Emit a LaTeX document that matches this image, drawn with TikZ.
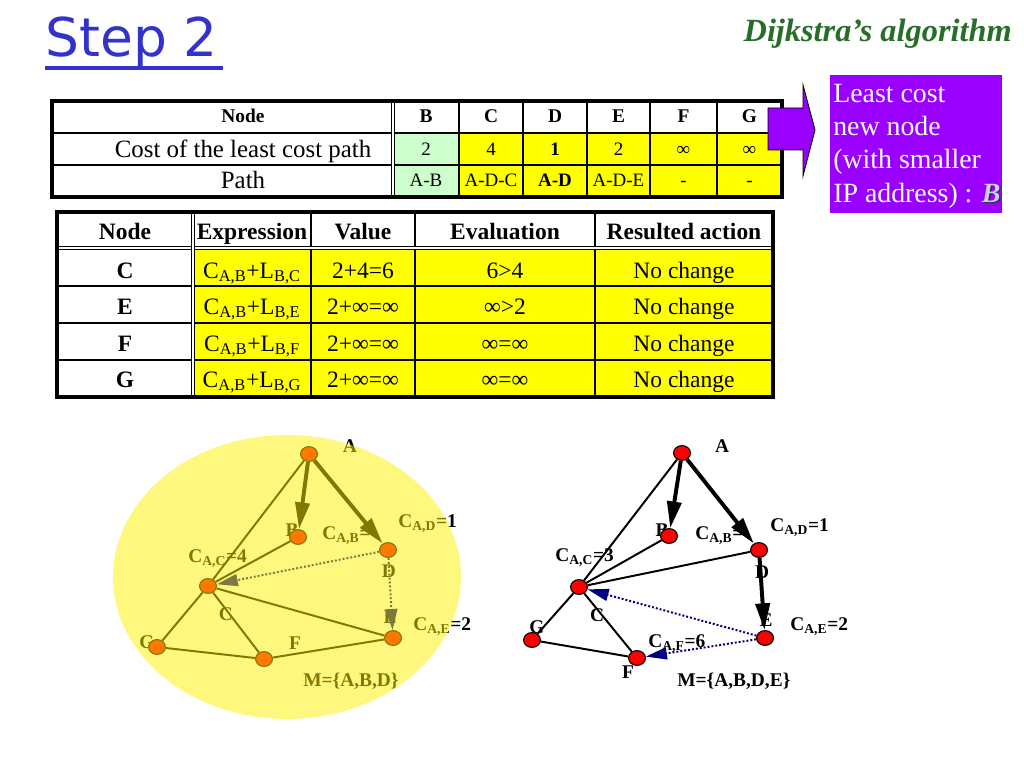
\documentclass[tikz,border=0pt]{standalone}
\usepackage{fontspec}
\setmainfont{Liberation Serif}
\newfontfamily\titlefont{DejaVu Sans}
\usepackage{xcolor}
\usepackage{tikz}
\usetikzlibrary{arrows.meta, positioning, shapes.geometric}

\definecolor{titleblue}{RGB}{51,51,204}
\definecolor{dgreen}{RGB}{40,110,40}
\definecolor{cellyellow}{RGB}{255,255,0}
\definecolor{cellgreen}{RGB}{204,255,204}
\definecolor{boxpurple}{RGB}{153,0,255}
\definecolor{lavender}{RGB}{204,204,255}
\definecolor{dotblue}{RGB}{0,0,128}

\newcommand{\shadowB}{\makebox[0pt][l]{\hspace{1.2pt}\raisebox{-1.2pt}{\textcolor{black!80}{\textbf{\textit{B}}}}}\textcolor{lavender}{\textbf{\textit{B}}}}

\tikzset{
  vtx/.style={ellipse, draw=black, line width=0.8pt, fill=red, minimum width=12pt, minimum height=10.5pt, inner sep=0pt},
  lbl/.style={font=\fontsize{13.8}{16}\selectfont\bfseries, inner sep=0pt},
  tree/.style={line width=2.8pt, -{Triangle[length=19pt, width=10pt]}},
  link/.style={line width=1.4pt},
  probe/.style={dotblue, line width=1.4pt, dash pattern=on 1.4pt off 1.4pt, -{Triangle[length=15pt, width=8.5pt]}},
  tophead/.style={font=\fontsize{13.8}{16}\selectfont\bfseries, inner sep=0pt, anchor=base},
  topcell/.style={font=\fontsize{13.5}{16}\selectfont, inner sep=0pt, anchor=base},
  toplead/.style={font=\fontsize{17.7}{20}\selectfont, inner sep=0pt, anchor=base},
  tabhead/.style={font=\fontsize{16.7}{20}\selectfont\bfseries, inner sep=0pt, anchor=base},
  tabcell/.style={font=\fontsize{16.7}{20}\selectfont, inner sep=0pt, anchor=base},
  grid/.style={line width=0.9pt},
  rim/.style={line width=2.2pt},
  twin/.style={double, double distance=1.6pt, line width=0.7pt}
}

\begin{document}
\begin{tikzpicture}[x=0.025cm, y=-0.025cm]
  \useasboundingbox (0,0) rectangle (1024,768);

  % Heading
  \node[anchor=base west, inner sep=0pt, titleblue, font=\titlefont\fontsize{38}{44}\selectfont] (title) at (45,57) {Step 2};
  \draw[titleblue, line width=2.2pt] (title.base west) ++(0,11) -- ++(178,0);
  \node[anchor=base east, inner sep=0pt, dgreen, font=\fontsize{23}{28}\selectfont\bfseries\itshape] (algo) at (1012,42) {Dijkstra’s algorithm};

  % Table 1: least cost so far
  \fill[white] (52,101) rectangle (782,197);
  \fill[cellgreen] (393,133) rectangle (459,197);
  \fill[cellyellow] (459,133) rectangle (782,197);
  \foreach \x in {459,523,587,650,717}
    \draw[grid] (\x,101) -- (\x,197);
  \draw[grid] (52,165) -- (782,165);
  \draw[line width=1.6pt] (52,133) -- (782,133);
  \draw[twin] (393,101) -- (393,197);
  \draw[rim] (52,101) rectangle (782,197);

  \node[tophead] (topnode) at (243,123) {Node};
  \node[toplead] (topcost) at (243,158) {Cost of the least cost path};
  \node[toplead] (toppath) at (243,188) {Path};
  \foreach \name/\x/\cost/\route in {B/426/2/A-B, C/491/4/A-D-C, D/555/{\bfseries 1}/{\bfseries A-D},
                                     E/618.5/2/A-D-E, F/683.5/∞/-, G/749.5/∞/-} {
    \node[tophead] (head\name) at (\x,123) {\name};
    \node[topcell] (cost\name) at (\x,155) {\cost};
    \node[topcell] (route\name) at (\x,187) {\route};
  }

  % Arrow to the chosen node
  \draw[fill=boxpurple, line width=0.6pt] (768,108) -- (803,108) -- (803,85) -- (815,130)
    -- (803,176) -- (803,150) -- (768,150) -- cycle;
  \fill[boxpurple] (830,75) rectangle (1002,213);
  \node[anchor=north west, inner sep=0pt, align=left, text=white,
        font=\fontsize{19.8}{23.6}\selectfont] (note) at (833,84)
    {Least cost\\new node\\(with smaller\\IP address) : \shadowB};

  % Table 2: relaxing the edges of B
  \fill[white] (57,212) rectangle (773,397);
  \fill[cellyellow] (193,248) rectangle (773,397);
  \foreach \y in {286,323,360}
    \draw[grid] (57,\y) -- (773,\y);
  \foreach \x in {311,415,595}
    \draw[grid] (\x,212) -- (\x,397);
  \draw[twin] (57,248) -- (773,248);
  \draw[twin] (193,212) -- (193,397);
  \draw[rim] (57,212) rectangle (773,397);

  \node[tabhead] (hnode) at (125,239) {Node};
  \node[tabhead] (hexpr) at (252,239) {Expression};
  \node[tabhead] (hval) at (363,239) {Value};
  \node[tabhead] (heval) at (505,239) {Evaluation};
  \node[tabhead] (hact) at (684,239) {Resulted action};
  \foreach \name/\y/\val/\test in {C/278/2+4=6/6>4, E/314/2+∞=∞/∞>2, F/351/2+∞=∞/∞=∞, G/387/2+∞=∞/∞=∞} {
    \node[tabhead] (row\name) at (125,\y) {\name};
    \node[tabcell] (expr\name) at (252,\y) {C\textsubscript{A,B}+L\textsubscript{B,\name}};
    \node[tabcell] (val\name) at (363,\y) {\val};
    \node[tabcell] (eval\name) at (505,\y) {\test};
    \node[tabcell] (act\name) at (684,\y) {No change};
  }

  % Left graph: M={A,B,D}
  \node[lbl] (LtA) at (350,446) {A};
  \node[lbl] (LtB) at (292,530) {B};
  \node[lbl, anchor=west] (LcAB) at (322,536) {C\textsubscript{A,B}=};
  \node[lbl, anchor=west] (LcAD) at (398,524) {C\textsubscript{A,D}=1};
  \node[lbl, anchor=west] (LcAC) at (188,559) {C\textsubscript{A,C}=4};
  \node[lbl] (LtD) at (389,571) {D};
  \node[lbl] (LtC) at (226,614) {C};
  \node[lbl] (LtE) at (390,617) {E};
  \node[lbl, anchor=west] (LcAE) at (413,627) {C\textsubscript{A,E}=2};
  \node[lbl] (LtG) at (147,642) {G};
  \node[lbl] (LtF) at (295,643) {F};
  \node[lbl, anchor=west] (LtM) at (303,681) {M=\{A,B,D\}};

  \node[vtx] (LA) at (309,454) {};
  \node[vtx] (LB) at (298,537) {};
  \node[vtx] (LD) at (388,550) {};
  \node[vtx] (LC) at (208,586) {};
  \node[vtx] (LE) at (393,638) {};
  \node[vtx] (LG) at (157,647) {};
  \node[vtx] (LF) at (264,659) {};

  \draw[tree] (LA) -- (LB);
  \draw[tree] (LA) -- (LD);
  \draw[link] (LA) -- (LC);
  \draw[link] (LB) -- (LC);
  \draw[link] (LC) -- (LG);
  \draw[link] (LC) -- (LF);
  \draw[link] (LC) -- (LE);
  \draw[link] (LG) -- (LF);
  \draw[link] (LF) -- (LE);
  \draw[probe] (LD) -- (LC);
  \draw[probe] (LD) -- (LE);

  % Yellow highlight over the left graph
  \fill[yellow, fill opacity=0.5] (287,577) ellipse [x radius=174, y radius=142];

  % Right graph: M={A,B,D,E}
  \node[lbl] (RtA) at (722,446) {A};
  \node[lbl] (RtB) at (662,530) {B};
  \node[lbl, anchor=west] (RcAB) at (695,536) {C\textsubscript{A,B}=};
  \node[lbl, anchor=west] (RcAD) at (770,528) {C\textsubscript{A,D}=1};
  \node[lbl, anchor=west] (RcAC) at (555,558) {C\textsubscript{A,C}=3};
  \node[lbl] (RtD) at (762,572) {D};
  \node[lbl] (RtC) at (597,615) {C};
  \node[lbl] (RtE) at (766,620) {E};
  \node[lbl, anchor=west] (RcAE) at (790,627) {C\textsubscript{A,E}=2};
  \node[lbl] (RtG) at (537,627) {G};
  \node[lbl] (RtF) at (628,672) {F};
  \node[lbl, anchor=west] (RcAF) at (648,644) {C\textsubscript{A,F}=6};
  \node[lbl, anchor=west] (RtM) at (677,681) {M=\{A,B,D,E\}};

  \node[vtx] (RA) at (682,453) {};
  \node[vtx] (RB) at (669,536) {};
  \node[vtx] (RD) at (759,550) {};
  \node[vtx] (RC) at (579,587) {};
  \node[vtx] (RE) at (765,638) {};
  \node[vtx] (RG) at (532,640) {};
  \node[vtx] (RF) at (637,658) {};

  \draw[tree] (RA) -- (RB);
  \draw[tree] (RA) -- (RD);
  \draw[tree] (RD) -- (RE);
  \draw[link] (RA) -- (RC);
  \draw[link] (RB) -- (RC);
  \draw[link] (RC) -- (RD);
  \draw[link] (RC) -- (RG);
  \draw[link] (RC) -- (RF);
  \draw[link] (RG) -- (RF);
  \draw[probe] (RE) -- (RC);
  \draw[probe] (RE) -- (RF);
\end{tikzpicture}
\end{document}
